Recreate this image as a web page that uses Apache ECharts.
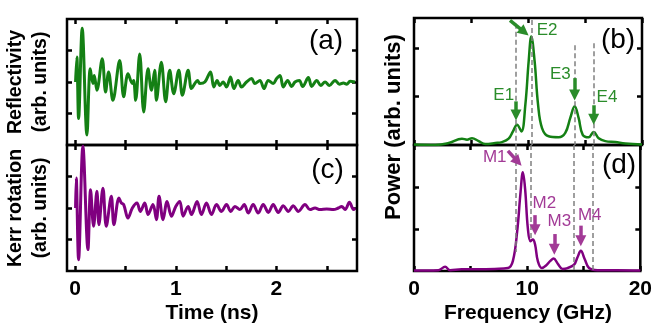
<!DOCTYPE html>
<html><head><meta charset="utf-8">
<script src="https://cdn.jsdelivr.net/npm/echarts@6/dist/echarts.min.js"></script>
<style>html,body{margin:0;padding:0;background:#fff}#c{width:655px;height:328px}</style>
</head><body><div id="c"></div>
<script>
// ---- data ----
const timeA = [0.005,0.018,0.035,0.071,0.118,0.151,0.177,0.191,0.217,0.270,
  0.303,0.333,0.376,0.443,0.483,0.526,0.569,0.582,0.602,0.642,
  0.682,0.725,0.758,0.791,0.808,0.857,0.900,0.940,0.980,1.030,
  1.066,1.123,1.156,1.189,1.216,1.239,1.289,1.345,1.378,1.411,
  1.438,1.471,1.504,1.544,1.577,1.620,1.653,1.703,1.753,1.786,
  1.836,1.876,1.919,1.968,2.002,2.035,2.068,2.111,2.151,2.184,
  2.227,2.260,2.317,2.350,2.400,2.440,2.483,2.526,2.582,2.625,
  2.665,2.698,2.731,2.780];
const reflectivity = [0,0.79,-1.16,1.71,-1.68,0.42,-0.05,0.21,-0.26,0.74,
  -0.32,0.32,-0.58,0.68,-0.47,0.26,-0.05,0.05,-0.58,0.89,
  -0.95,0.42,-0.26,0.37,-0.58,0.63,-0.63,0.37,-0.37,0.37,
  -0.42,0.37,-0.21,-0.05,0.05,-0.05,0,0.32,-0.16,0.05,
  -0.11,0,-0.16,0.16,-0.21,0.05,-0.16,0,0.11,-0.05,
  0.05,-0.21,0.05,-0.05,0.11,0.21,-0.16,0.05,-0.14,0,
  0.05,-0.14,0.14,-0.14,0.05,-0.11,0,-0.11,0.05,-0.07,
  -0.03,-0.07,0.02,0.0];
const timeC = [0.005,0.012,0.035,0.078,0.128,0.154,0.184,0.217,0.237,0.277,
  0.310,0.360,0.386,0.436,0.459,0.483,0.526,0.569,0.615,0.648,
  0.692,0.725,0.774,0.808,0.834,0.874,0.914,0.957,1.000,1.040,
  1.073,1.123,1.156,1.212,1.255,1.305,1.355,1.405,1.454,1.504,
  1.547,1.587,1.637,1.680,1.720,1.769,1.819,1.869,1.919,1.968,
  2.018,2.068,2.118,2.167,2.217,2.284,2.333,2.383,2.433,2.499,
  2.566,2.615,2.648,2.682,2.725,2.765,2.781];
const kerrRotation = [0,0.95,-1.64,1.96,-1.32,0.58,-0.58,0.53,-0.53,0.63,
  -0.58,0.37,-0.53,0.32,0.16,0.11,-0.32,0,0.16,-0.11,
  0.16,-0.21,0.11,-0.37,0.37,-0.37,0.21,-0.26,0.05,0.21,
  -0.26,0.05,-0.21,0.21,-0.21,0.16,-0.21,0.11,-0.11,0.11,
  -0.11,0.05,-0.05,0.11,-0.16,0.11,-0.16,0.11,-0.14,0.11,
  -0.14,0.07,-0.11,0.07,-0.11,0.11,-0.05,0,-0.05,-0.03,
  -0.05,0,0.05,-0.05,0.18,-0.05,0];
const freqB = [0,1.87,3.04,4.21,4.65,5.09,5.67,6.26,7.13,7.72,
  8.30,8.68,9.04,9.42,9.77,10.06,10.29,10.58,10.88,11.23,
  11.81,12.69,13.27,13.71,14.09,14.44,14.80,15.32,15.76,16.20,
  16.78,17.66,18.54,20];
const powerB = [0.01,0,0.04,0.13,0.11,0.14,0.08,0.02,0.04,0.06,
  0.13,0.28,0.42,0.28,0.84,1.73,2.24,1.73,0.84,0.35,
  0.18,0.16,0.25,0.56,0.80,0.56,0.21,0.16,0.27,0.14,
  0.08,0.06,0.03,0.01];
const freqD = [0,2.16,2.75,3.19,4.21,5.67,7.13,8.30,8.74,9.12,
  9.42,9.62,9.82,10.06,10.29,10.50,10.70,10.94,11.29,11.67,
  12.05,12.34,12.69,13.13,13.57,14.15,14.44,14.74,15.09,15.47,
  16.20,17.95,20];
const powerD = [0.01,0.02,0.10,0.02,0.04,0.04,0.05,0.07,0.24,0.95,
  1.89,2.35,1.95,1.02,0.71,0.75,0.63,0.24,0.07,0.13,
  0.24,0.30,0.18,0.05,0.07,0.15,0.32,0.48,0.28,0.07,
  0.02,0.02,0.01];

const timeTicks = [0,0.5,1,1.5,2,2.5];
const timeLabels = [0,1,2];
const freqTicks = [0,5,10,15,20];
const freqLabels = [0,10,20];
const traceTicks = [-1,0,1];
const powerTicks = [1,2];

const guideFreqs = [8.95,10.3,14.1,15.76];
const guideTopB = [2.5,2.58,2.06,2.1];
const guideBottomD = [0.45,0.72,0,0];

const labelsB = ['E1','E2','E3','E4'];
const labelPosB = [[7.87,1.02],[11.67,2.36],[12.84,1.45],[16.93,0.98]];
const arrowsB = [[[8.95,0.90],[8.95,0.62]],[[8.42,2.57],[9.68,2.33]],[[14.09,1.38],[14.09,1.03]],[[15.76,0.82],[15.76,0.53]]];
const labelsD = ['M1','M2','M3','M4'];
const labelPosD = [[7.13,2.71],[11.52,1.6],[12.84,1.18],[15.53,1.32]];
const arrowsD = [[[8.3,2.86],[9.18,2.6]],[[10.7,1.33],[10.7,0.98]],[[12.4,0.88],[12.4,0.52]],[[14.74,1.08],[14.74,0.72]]];

// ---- styles ----
const GREEN = '#148014', PURPLE = '#800080';
const GREEN_ANN = '#2a8c2a', PURPLE_ANN = '#a23a96';
const FONT = '"Liberation Sans", Arial, sans-serif';

const chart = echarts.init(document.getElementById('c'), null, {renderer:'canvas'});

const grids = [
  {left:67, top:19, width:290, height:126},
  {left:67, top:145, width:290, height:126},
  {left:414, top:18, width:228, height:127},
  {left:414, top:145, width:228, height:126}
].map(g => Object.assign({show:true, borderColor:'#000', borderWidth:2.5, backgroundColor:'transparent'}, g));

function tick(vals){ return {show:true, inside:true, length:5, lineStyle:{color:'#000', width:2.5}, customValues:vals}; }
function xAx(grid, min, max, ticks, labels, pos){
  return {type:'value', gridIndex:grid, position:pos, min, max,
    axisLine:{show:false, onZero:false}, splitLine:{show:false}, axisTick:tick(ticks),
    axisLabel: labels ? {show:true, customValues:labels, color:'#000', fontFamily:FONT, fontWeight:'bold', fontSize:21, margin:8} : {show:false}};
}
function yAx(grid, min, max, ticks, pos){
  return {type:'value', gridIndex:grid, position:pos, min, max,
    axisLine:{show:false, onZero:false}, splitLine:{show:false}, axisTick:tick(ticks), axisLabel:{show:false}};
}

const xAxis = [
  xAx(0,-0.08,2.8,timeTicks,null,'bottom'), xAx(0,-0.08,2.8,timeTicks,null,'top'),
  xAx(1,-0.08,2.8,timeTicks,timeLabels,'bottom'), xAx(1,-0.08,2.8,timeTicks,null,'top'),
  xAx(2,0,20,freqTicks,null,'bottom'), xAx(2,0,20,freqTicks,null,'top'),
  xAx(3,0,20,freqTicks,freqLabels,'bottom'), xAx(3,0,20,freqTicks,null,'top')
];
const yAxis = [
  yAx(0,-2,2,traceTicks,'left'), yAx(0,-2,2,traceTicks,'right'),
  yAx(1,-2,2,traceTicks,'left'), yAx(1,-2,2,traceTicks,'right'),
  yAx(2,0,2.62,powerTicks,'left'), yAx(2,0,2.62,powerTicks,'right'),
  yAx(3,0,3,powerTicks,'left'), yAx(3,0,3,powerTicks,'right')
];

const zip = (a,b) => a.map((v,i)=>[v,b[i]]);

function guides(tops, bottoms){
  return {silent:true, symbol:['none','none'], animation:false,
    lineStyle:{type:[5,3], color:'#808080', width:1.5}, label:{show:false},
    data: guideFreqs.map((f,i)=>[{coord:[f,tops[i]]},{coord:[f,bottoms[i]]}])};
}
function arrows(list, color){
  return {silent:true, symbol:['none','triangle'], symbolSize:11, animation:false,
    lineStyle:{type:'solid', color, width:3.5}, label:{show:false},
    data: list.map(a=>[{coord:a[0]},{coord:a[1]}])};
}
function texts(names, pos, color){
  return {silent:true, animation:false, symbol:'circle', symbolSize:0, itemStyle:{color:'transparent'},
    label:{show:true, position:'inside', formatter:'{b}', color, fontFamily:FONT, fontSize:17},
    data: names.map((n,i)=>({name:n, coord:pos[i]}))};
}

const series = [
  {type:'line', xAxisIndex:0, yAxisIndex:0, data:zip(timeA,reflectivity), symbol:'none', smooth:0.35,
    lineStyle:{color:GREEN, width:3}, animation:false},
  {type:'line', xAxisIndex:2, yAxisIndex:2, data:zip(timeC,kerrRotation), symbol:'none', smooth:0.35,
    lineStyle:{color:PURPLE, width:3}, animation:false},
  {type:'line', xAxisIndex:4, yAxisIndex:4, data:zip(freqB,powerB), symbol:'none', smooth:0.4,
    lineStyle:{color:GREEN, width:2.5}, animation:false,
    markLine: guides(guideTopB, guideFreqs.map(()=>0))},
  {type:'line', xAxisIndex:6, yAxisIndex:6, data:zip(freqD,powerD), symbol:'none', smooth:0.4,
    lineStyle:{color:PURPLE, width:2.5}, animation:false,
    markLine: guides(guideFreqs.map(()=>3), guideBottomD)},
  {type:'line', xAxisIndex:4, yAxisIndex:4, data:[], symbol:'none', animation:false, z:5,
    markLine: arrows(arrowsB, GREEN_ANN), markPoint: texts(labelsB, labelPosB, GREEN_ANN)},
  {type:'line', xAxisIndex:6, yAxisIndex:6, data:[], symbol:'none', animation:false, z:5,
    markLine: arrows(arrowsD, PURPLE_ANN), markPoint: texts(labelsD, labelPosD, PURPLE_ANN)}
];

function txt(x, y, text, font, rot, lh){
  return {type:'text', x, y, rotation: rot||0, silent:true,
    style:{text, font, fill:'#000', textAlign:'center', textVerticalAlign:'middle', lineHeight: lh||undefined}};
}
const graphic = [
  txt(326, 41.5, '(a)', '28px ' + FONT),
  txt(327.5, 170.5, '(c)', '28px ' + FONT),
  txt(618, 40, '(b)', '28px ' + FONT),
  txt(619, 165, '(d)', '28px ' + FONT),
  txt(28, 82, 'Reflectivity\n(arb. units)', 'bold 19.5px ' + FONT, Math.PI/2, 25),
  txt(28, 208, 'Kerr rotation\n(arb. units)', 'bold 19.5px ' + FONT, Math.PI/2, 25),
  txt(394, 127, 'Power (arb. units)', 'bold 22px ' + FONT, Math.PI/2),
  txt(212, 313, 'Time (ns)', 'bold 21px ' + FONT),
  txt(528, 313, 'Frequency (GHz)', 'bold 21px ' + FONT)
];

chart.setOption({animation:false, backgroundColor:'#fff', grid:grids, xAxis, yAxis, series, graphic});
</script></body></html>
